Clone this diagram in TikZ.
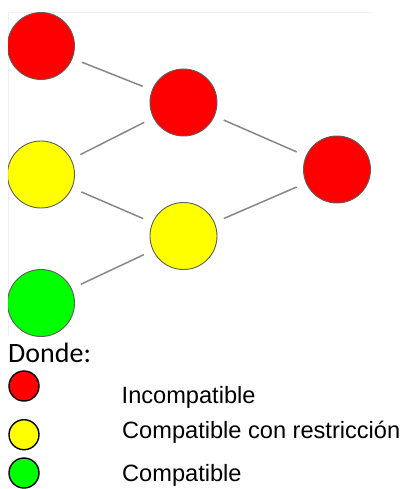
\documentclass[tikz,border=0pt]{standalone}
\usepackage{fontspec}
\setmainfont{Liberation Sans}
\newfontfamily\donde{Carlito}
\definecolor{cred}{HTML}{FF0000}
\definecolor{cyel}{HTML}{FFFF00}
\definecolor{cgrn}{HTML}{00FF00}
\definecolor{edgegray}{HTML}{888888}
\definecolor{rimgray}{HTML}{5E5E5E}
\definecolor{framegray}{HTML}{F0F0F0}
\begin{document}
\begin{tikzpicture}[x=1pt,y=-1pt,
  bigdot/.style={circle,draw=rimgray,line width=0.9pt,minimum size=67pt,inner sep=0pt},
  legdot/.style={circle,draw=black,line width=1.4pt,minimum size=30pt,inner sep=0pt},
  link/.style={draw=edgegray,line width=1.5pt,shorten <=10pt,shorten >=10pt},
  legtext/.style={anchor=base west,inner sep=0pt,font=\fontsize{23.6}{26}\selectfont}
]
\useasboundingbox (0,0) rectangle (407,489);
\fill[white] (0,0) rectangle (407,489);
% faint frame of the embedded image
\draw[framegray,line width=1pt] (8,336) -- (8,13) -- (372,13);
\begin{scope}
\clip (8,13) rectangle (372,336);
\node[bigdot,fill=cred] (a) at (41,46) {};
\node[bigdot,fill=cyel] (b) at (41,174.5) {};
\node[bigdot,fill=cgrn] (c) at (41,303) {};
\node[bigdot,fill=cred] (d) at (183.5,102.5) {};
\node[bigdot,fill=cyel] (e) at (183.5,236) {};
\node[bigdot,fill=cred] (f) at (337,169.5) {};
\end{scope}
\path[link] (a) -- (d);
\path[link] (b) -- (d);
\path[link] (b) -- (e);
\path[link] (c) -- (e);
\path[link] (d) -- (f);
\path[link] (e) -- (f);
% legend
\node[anchor=base west,inner sep=0pt,font=\donde\fontsize{28}{30}\selectfont] (dn) at (8,362) {Donde:};
\node[legdot,fill=cred] (l1) at (24,386) {};
\node[legdot,fill=cyel] (l2) at (24,434.7) {};
\node[legdot,fill=cgrn] (l3) at (24,473) {};
\node[legtext] (t1) at (121.5,403.5) {Incompatible};
\node[legtext] (t2) at (122,438.5) {Compatible con restricción};
\node[legtext] (t3) at (122,481.5) {Compatible};
\end{tikzpicture}
\end{document}
